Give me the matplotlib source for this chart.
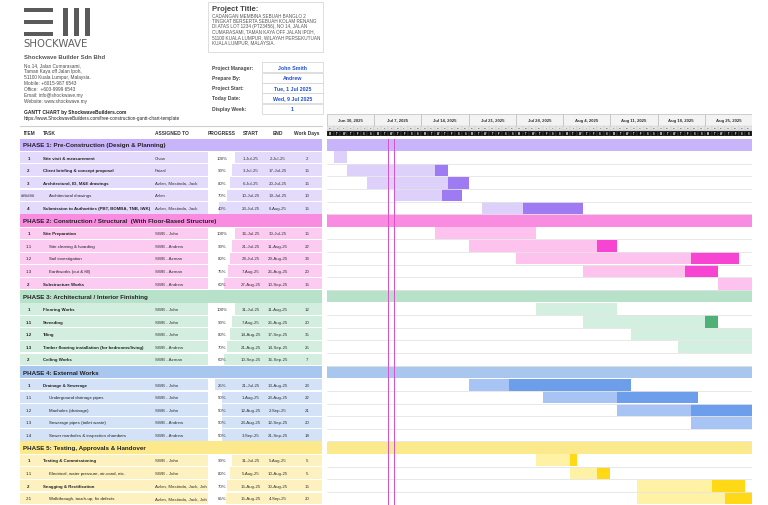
import math
import datetime as dt
import matplotlib
matplotlib.use("Agg")
import matplotlib.pyplot as plt
import matplotlib.dates as mdates
from matplotlib.patches import Rectangle

plt.rcParams['font.family'] = ['Liberation Sans', 'DejaVu Sans']

# --- DADOS DO PROJETO ---
phase_names = [
    "PHASE 1: Pre-Construction (Design & Planning)",
    "PHASE 2: Construction / Structural  (With Floor-Based Structure)",
    "PHASE 3: Architectural / Interior Finishing",
    "PHASE 4: External Works",
    "PHASE 5: Testing, Approvals & Handover",
]
phase_header = ['#c8b4fb', '#f98ce0', '#b8e1c9', '#a9c6ee', '#fce98c']
phase_row_bg = ['#e4dbfc', '#fccbf1', '#d3eedf', '#d3e2f7', '#fdf1bf']
phase_light = ['#ddd1fb', '#fdc2ee', '#d3efdf', '#a7c4f4', '#fff2a4']
phase_dark = ['#9f7bf3', '#f844d2', '#4fb178', '#6d9eeb', '#ffd816']

items = ["1", "2", "3", "######", "4",
         "1", "1.1", "1.2", "1.3", "2",
         "1", "1.1", "1.2", "1.3", "2",
         "1", "1.1", "1.2", "1.3", "1.4",
         "1", "1.1", "2", "2.1"]
task_phase = [0] * 5 + [1] * 5 + [2] * 5 + [3] * 5 + [4] * 4
sub_task = [False, False, False, True, False,
            False, True, True, True, False,
            False, False, False, False, False,
            False, True, True, True, True,
            False, True, False, True]
tasks = [
    "Site visit & measurement", "Client briefing & concept proposal",
    "Architectural, ID, M&E drawings", "Architectural drawings",
    "Submission to Authorities (PBT, BOMBA, TNB, IWK)",
    "Site Preparation", "Site clearing & hoarding", "Soil investigation",
    "Earthworks (cut & fill)", "Substructure Works",
    "Flooring Works", "Screeding", "Tiling",
    "Timber flooring installation (for bedrooms/living)", "Ceiling Works",
    "Drainage & Sewerage", "Underground drainage pipes", "Manholes (drainage)",
    "Sewerage pipes (toilet waste)", "Sewer manholes & inspection chambers",
    "Testing & Commissioning", "Electrical, water pressure, air-cond, etc.",
    "Snagging & Rectification", "Walkthrough, touch-up, fix defects",
]
assigned = [
    "Chow", "Faizal", "Azlan, Mastinda, Jack", "Azlan", "Azlan, Mastinda, Jack",
    "SWB - John", "SWB - Andrew", "SWB - Azman", "SWB - Azman", "SWB - Andrew",
    "SWB - John", "SWB - John", "SWB - John", "SWB - Andrew", "SWB - Azman",
    "SWB - John", "SWB - John", "SWB - John", "SWB - Andrew", "SWB - Andrew",
    "SWB - John", "SWB - John", "Azlan, Mastinda, Jack, Joh", "Azlan, Mastinda, Jack, Joh",
]
progress = [1.00, 0.90, 0.80, 0.70, 0.40,
            1.00, 0.90, 0.80, 0.75, 0.60,
            1.00, 0.90, 0.80, 0.70, 0.60,
            0.25, 0.50, 0.50, 0.50, 0.50,
            0.90, 0.80, 0.70, 0.65]
starts = ["1-Jul-25", "3-Jul-25", "6-Jul-25", "10-Jul-25", "23-Jul-25",
          "16-Jul-25", "21-Jul-25", "28-Jul-25", "7-Aug-25", "27-Aug-25",
          "31-Jul-25", "7-Aug-25", "14-Aug-25", "21-Aug-25", "10-Sep-25",
          "21-Jul-25", "1-Aug-25", "12-Aug-25", "23-Aug-25", "3-Sep-25",
          "31-Jul-25", "5-Aug-25", "15-Aug-25", "15-Aug-25"]
ends = ["2-Jul-25", "17-Jul-25", "20-Jul-25", "19-Jul-25", "6-Aug-25",
        "30-Jul-25", "11-Aug-25", "29-Aug-25", "26-Aug-25", "10-Sep-25",
        "11-Aug-25", "26-Aug-25", "17-Sep-25", "14-Sep-25", "16-Sep-25",
        "13-Aug-25", "23-Aug-25", "2-Sep-25", "12-Sep-25", "21-Sep-25",
        "5-Aug-25", "10-Aug-25", "30-Aug-25", "4-Sep-25"]
work_days = [2, 15, 15, 10, 15,
             15, 22, 33, 20, 15,
             12, 20, 35, 25, 7,
             23, 22, 21, 20, 18,
             5, 5, 15, 20]

project_start = dt.date(2025, 6, 30)   # segunda-feira da semana 1
today = dt.date(2025, 7, 9)
n_weeks = 9

info_labels = ["Project Manager:", "Prepare By:", "Project Start:", "Today Date:", "Display Week:"]
info_values = ["John Smith", "Andrew", "Tue, 1 Jul 2025", "Wed, 9 Jul 2025", "1"]
title_lines = [
    "CADANGAN MEMBINA SEBUAH BANGLO 2",
    "TINGKAT BERSERTA SEBUAH KOLAM RENANG",
    "DI ATAS LOT 1234 (PT23456), NO 14, JALAN",
    "CUMARASAMI, TAMAN KAYA OFF JALAN IPOH,",
    "51100 KUALA LUMPUR, WILAYAH PERSEKUTUAN",
    "KUALA LUMPUR, MALAYSIA.",
]
company_lines = [
    "No.14, Jalan Cumarasami,",
    "Taman Kaya off Jalan Ipoh,",
    "51100 Kuala Lumpur, Malaysia.",
    "Mobile: +6015-987 6543",
    "Office:  +603-9999 6543",
    "Email: info@shockwave.my",
    "Website: www.shockwave.my",
]

FS = 3.2   # fonte da tabela


def parse(s):
    return dt.datetime.strptime(s, "%d-%b-%y").date()


# --- FIGURA ---
W, H = 768, 506
fig = plt.figure(figsize=(W / 100, H / 100), dpi=100)
fig.patch.set_facecolor('white')


def px_axes(x0, y0, x1, y1):
    return fig.add_axes([x0 / W, 1 - y1 / H, (x1 - x0) / W, (y1 - y0) / H])


# camada de fundo em pixels (cabeçalho)
bg = px_axes(0, 0, W, H)
bg.set_xlim(0, W)
bg.set_ylim(H, 0)
bg.axis('off')

# logo
for yy in (9, 21, 33):
    bg.add_patch(Rectangle((24, yy), 29, 3.5, color='#5a5a5a', lw=0))
for xx in (63, 74, 85):
    bg.add_patch(Rectangle((xx, 9), 4.5, 27.5, color='#5a5a5a', lw=0))
bg.text(23.5, 44, "SHOCKWAVE", fontsize=7.3, color='#5f5f5f', family='DejaVu Sans',
        va='center', ha='left')

bg.text(24, 57.5, "Shockwave Builder Sdn Bhd", fontsize=4.3, fontweight='bold',
        color='#555555', va='center')
for i, line in enumerate(company_lines):
    bg.text(24, 65.7 + i * 5.95, line, fontsize=3.4, color='#4a4a4a', va='center')
bg.text(24, 112.7, "GANTT CHART by ShockwaveBuilders.com", fontsize=3.5,
        fontweight='bold', color='#222222', va='center')
bg.text(24, 118.5, "https://www.ShockwaveBuilders.com/free-construction-gantt-chart-template",
        fontsize=3.3, color='#222222', va='center')

# caixa do título do projeto
bg.add_patch(Rectangle((208, 3), 115, 50, fill=False, ec='#d8d8d8', lw=0.6))
bg.text(212.5, 9.5, "Project Title:", fontsize=5.6, fontweight='bold',
        color='#444444', va='center')
for i, line in enumerate(title_lines):
    bg.text(212.5, 16 + i * 5.4, line, fontsize=3.3, color='#555555', va='center')

# informações do projeto
info_y = [68, 78.5, 88.5, 98.5, 109.5]
for lab, val, yy in zip(info_labels, info_values, info_y):
    bg.text(212.5, yy, lab, fontsize=3.6, fontweight='bold', color='#444444', va='center')
    bg.add_patch(Rectangle((262, yy - 5), 61, 10, fill=False, ec='#d8d8d8', lw=0.6))
    bg.text(292.5, yy, val, fontsize=3.8, fontweight='bold', color='#1f4fd6',
            va='center', ha='center')

# linha separadora do cabeçalho da tabela
bg.plot([20, 322], [127, 127], color='#cfcfcf', lw=0.8)

# --- TABELA (esquerda) ---
n_rows = len(phase_names) + len(tasks)
ax_t = px_axes(20, 127, 322, 505.5)
ax_t.set_xlim(20, 322)
ax_t.set_ylim(n_rows, -1)
ax_t.axis('off')

hdr_cols = [("ITEM", 24, 'left'), ("TASK", 43, 'left'), ("ASSIGNED TO", 155, 'left'),
            ("PROGRESS", 221.5, 'center'), ("START", 251, 'center'),
            ("END", 278, 'center'), ("Work Days", 307, 'center')]
for txt, xx, ha in hdr_cols:
    ax_t.text(xx, -0.5, txt, fontsize=3.5, fontweight='bold', color='#333333',
              ha=ha, va='center')

# --- GANTT (direita) ---
x_start = mdates.date2num(project_start)
x_end = mdates.date2num(project_start + dt.timedelta(days=7 * n_weeks))

ax_g = px_axes(327, 139.5, 752, 505.5)
ax_g.set_xlim(x_start, x_end)
ax_g.set_ylim(n_rows, 0)
ax_g.axis('off')

row = 0
for p, pname in enumerate(phase_names):
    # linha da fase
    ax_t.barh(row + 0.5, 302, left=20, height=1.0, color=phase_header[p], lw=0)
    ax_t.text(23, row + 0.5, pname, fontsize=4.5, fontweight='bold', color='#222222',
              va='center')
    ax_g.barh(row + 0.5, x_end - x_start, left=x_start, height=0.96,
              color=phase_header[p], lw=0)
    row += 1
    for i in [k for k in range(len(tasks)) if task_phase[k] == p]:
        yc = row + 0.5
        ax_t.barh(yc, 302, left=20, height=0.9, color=phase_row_bg[p], lw=0)
        ax_t.barh(yc, 27 * progress[i], left=208, height=0.9, color='white', lw=0)
        sub = sub_task[i]
        ax_t.text(28.5, yc, items[i], fontsize=FS, color='#222222', ha='center',
                  va='center', fontweight='normal' if sub else 'bold')
        ax_t.text(49 if sub else 43, yc, tasks[i], fontsize=FS, color='#222222',
                  va='center', fontweight='normal' if sub else 'bold')
        ax_t.text(155, yc, assigned[i], fontsize=FS, color='#333333', va='center')
        ax_t.text(222, yc, f"{round(progress[i] * 100)}%", fontsize=FS,
                  color='#333333', ha='center', va='center')
        s, e = parse(starts[i]), parse(ends[i])
        ax_t.text(251, yc, f"{s.day}-{s.strftime('%b-%y')}", fontsize=FS,
                  color='#333333', ha='center', va='center')
        ax_t.text(278, yc, f"{e.day}-{e.strftime('%b-%y')}", fontsize=FS,
                  color='#333333', ha='center', va='center')
        ax_t.text(307, yc, str(work_days[i]), fontsize=FS, color='#333333',
                  ha='center', va='center')

        # barras do gantt: parte concluída (clara) e restante (escura)
        dur = (e - s).days + 1
        done = math.floor(dur * progress[i] + 1e-9)
        x0 = mdates.date2num(s)
        ax_g.barh(yc, done, left=x0, height=0.96, color=phase_light[p], lw=0)
        ax_g.barh(yc, dur - done, left=x0 + done, height=0.96, color=phase_dark[p], lw=0)
        ax_g.hlines(row + 1, x_start, x_end, color='#e4e4e4', lw=0.6)
        row += 1

# linhas do dia de hoje
t0 = mdates.date2num(today)
ax_g.axvline(t0, color='#d94fc8', lw=0.7)
ax_g.axvline(t0 + 1, color='#d94fc8', lw=0.7)

# --- CABEÇALHO DO GANTT ---
ax_h = px_axes(327, 115, 752, 136.7)
ax_h.set_xlim(x_start, x_end)
ax_h.set_ylim(21.7, 0)
ax_h.axis('off')
for w in range(n_weeks):
    wd = project_start + dt.timedelta(days=7 * w)
    wx = mdates.date2num(wd)
    ax_h.add_patch(Rectangle((wx, 0), 7, 11.7, fc='#f3f3f3', ec='#bdbdbd', lw=0.5))
    ax_h.text(wx + 3.5, 5.8, f"{wd.strftime('%b')} {wd.day}, {wd.year}",
              fontsize=3.1, fontweight='bold', color='#333333', ha='center', va='center')
letters = "MTWTFSS"
for d in range(7 * n_weeks):
    day = project_start + dt.timedelta(days=d)
    dx = mdates.date2num(day)
    ax_h.add_patch(Rectangle((dx, 11.7), 1, 4.3, fc='#e6e6e6', ec='#c8c8c8', lw=0.3))
    ax_h.text(dx + 0.5, 13.85, str(day.day), fontsize=1.7, color='#333333',
              ha='center', va='center')
    ax_h.add_patch(Rectangle((dx, 16.7), 1, 5, fc='#111111', ec='#555555', lw=0.3))
    ax_h.text(dx + 0.5, 19.2, letters[day.weekday()], fontsize=1.8, fontweight='bold',
              color='white', ha='center', va='center')

fig.savefig("out.png", dpi=100, facecolor='white')
